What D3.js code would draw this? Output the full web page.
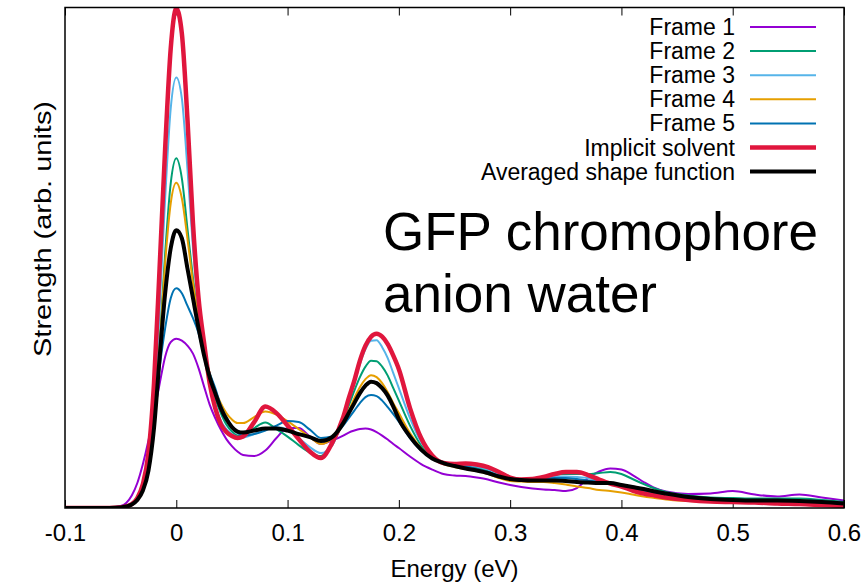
<!DOCTYPE html>
<html>
<head>
<meta charset="utf-8">
<script src="https://cdn.jsdelivr.net/npm/d3@7"></script>
<style>
    body { margin: 0; background: #fff; }
    svg text { font-family: "Liberation Sans", Arial, Helvetica, sans-serif; fill: #000; }
</style>
</head>
<body>
<svg id="chart" width="866" height="582"></svg>
<script>
// Energy grid (eV) shared by every curve
const energy = [-0.1, -0.06, -0.05, -0.045, -0.04, -0.035, -0.03, -0.025, -0.02, -0.015, -0.01, -0.005,
    0, 0.005, 0.01, 0.015, 0.02, 0.025, 0.03, 0.035, 0.04, 0.045, 0.05, 0.055,
    0.06, 0.07, 0.08, 0.09, 0.1, 0.11, 0.12, 0.13, 0.14, 0.15,
    0.155, 0.16, 0.165, 0.17, 0.175, 0.18, 0.185, 0.19, 0.195,
    0.2, 0.21, 0.22, 0.23, 0.24, 0.25, 0.26, 0.27, 0.28, 0.29, 0.3, 0.31, 0.32, 0.33, 0.34,
    0.35, 0.36, 0.37, 0.38, 0.39, 0.4, 0.41, 0.42, 0.43, 0.44,
    0.46, 0.48, 0.5, 0.52, 0.54, 0.56, 0.58, 0.6];

const frame1 = [0, 0.001, 0.004, 0.01, 0.025, 0.05, 0.088, 0.135, 0.19, 0.248, 0.303, 0.332,
    0.339, 0.335, 0.325, 0.309, 0.28, 0.243, 0.207, 0.18, 0.157, 0.138, 0.124, 0.113,
    0.106, 0.104, 0.115, 0.14, 0.16, 0.16, 0.143, 0.128, 0.135, 0.145,
    0.151, 0.155, 0.158, 0.159, 0.157, 0.152, 0.145, 0.137, 0.128,
    0.12, 0.103, 0.088, 0.077, 0.068, 0.065, 0.064, 0.061, 0.057, 0.051, 0.046, 0.042, 0.039, 0.037, 0.036,
    0.034, 0.04, 0.06, 0.073, 0.079, 0.077, 0.066, 0.052, 0.04, 0.033,
    0.028, 0.029, 0.034, 0.027, 0.023, 0.027, 0.021, 0.015];

const frame2 = [0, 0, 0.001, 0.003, 0.007, 0.016, 0.037, 0.08, 0.175, 0.33, 0.51, 0.65,
    0.7, 0.66, 0.56, 0.46, 0.375, 0.31, 0.26, 0.22, 0.19, 0.167, 0.153, 0.145,
    0.144, 0.16, 0.171, 0.158, 0.143, 0.126, 0.111, 0.104, 0.128, 0.175,
    0.205, 0.235, 0.262, 0.283, 0.295, 0.294, 0.283, 0.265, 0.24,
    0.215, 0.165, 0.125, 0.1, 0.09, 0.086, 0.083, 0.08, 0.075, 0.066, 0.059, 0.057, 0.058, 0.062, 0.066,
    0.068, 0.068, 0.068, 0.07, 0.072, 0.068, 0.058, 0.048, 0.039, 0.032,
    0.025, 0.021, 0.02, 0.019, 0.019, 0.019, 0.016, 0.012];

const frame3 = [0, 0, 0.001, 0.003, 0.008, 0.018, 0.042, 0.09, 0.2, 0.4, 0.62, 0.8,
    0.862, 0.82, 0.68, 0.52, 0.4, 0.32, 0.255, 0.205, 0.175, 0.158, 0.148, 0.142,
    0.141, 0.148, 0.158, 0.162, 0.157, 0.14, 0.122, 0.11, 0.125, 0.18,
    0.215, 0.25, 0.288, 0.318, 0.335, 0.336, 0.322, 0.3, 0.27,
    0.24, 0.18, 0.132, 0.104, 0.09, 0.087, 0.086, 0.083, 0.077, 0.068, 0.06, 0.056, 0.056, 0.059, 0.062,
    0.063, 0.062, 0.06, 0.054, 0.048, 0.043, 0.037, 0.032, 0.028, 0.025,
    0.02, 0.017, 0.016, 0.015, 0.014, 0.013, 0.011, 0.008];

const frame4 = [0, 0, 0.001, 0.003, 0.007, 0.016, 0.037, 0.08, 0.17, 0.32, 0.49, 0.61,
    0.651, 0.62, 0.54, 0.45, 0.375, 0.315, 0.27, 0.235, 0.21, 0.19, 0.177, 0.17,
    0.17, 0.182, 0.193, 0.187, 0.174, 0.158, 0.142, 0.128, 0.14, 0.175,
    0.195, 0.22, 0.242, 0.258, 0.266, 0.262, 0.25, 0.232, 0.21,
    0.19, 0.15, 0.12, 0.1, 0.088, 0.082, 0.078, 0.074, 0.068, 0.06, 0.054, 0.053, 0.052, 0.052, 0.05,
    0.047, 0.043, 0.04, 0.036, 0.034, 0.031, 0.027, 0.023, 0.02, 0.017,
    0.014, 0.012, 0.011, 0.01, 0.008, 0.007, 0.005, 0.003];

const frame5 = [0, 0, 0.001, 0.003, 0.008, 0.018, 0.042, 0.09, 0.18, 0.28, 0.36, 0.42,
    0.44, 0.43, 0.405, 0.38, 0.35, 0.305, 0.27, 0.24, 0.205, 0.182, 0.163, 0.15,
    0.145, 0.148, 0.155, 0.165, 0.174, 0.172, 0.157, 0.14, 0.143, 0.165,
    0.18, 0.195, 0.21, 0.222, 0.226, 0.224, 0.215, 0.202, 0.188,
    0.173, 0.14, 0.115, 0.1, 0.09, 0.086, 0.083, 0.078, 0.072, 0.064, 0.058, 0.056, 0.056, 0.058, 0.06,
    0.06, 0.058, 0.055, 0.052, 0.049, 0.045, 0.04, 0.035, 0.031, 0.027,
    0.021, 0.018, 0.016, 0.015, 0.015, 0.014, 0.012, 0.009];

const implicitSolvent = [0, 0, 0.001, 0.003, 0.008, 0.02, 0.048, 0.11, 0.25, 0.48, 0.72, 0.92,
    1.0, 0.95, 0.78, 0.57, 0.42, 0.33, 0.25, 0.2, 0.168, 0.152, 0.144, 0.14,
    0.143, 0.172, 0.203, 0.19, 0.165, 0.138, 0.113, 0.1, 0.13, 0.182,
    0.22, 0.255, 0.295, 0.325, 0.343, 0.349, 0.343, 0.328, 0.305,
    0.278, 0.2, 0.14, 0.105, 0.09, 0.088, 0.089, 0.087, 0.082, 0.072, 0.061, 0.057, 0.058, 0.062, 0.068,
    0.072, 0.072, 0.066, 0.057, 0.049, 0.043, 0.035, 0.029, 0.025, 0.021,
    0.016, 0.013, 0.012, 0.011, 0.009, 0.008, 0.006, 0.004];

const averaged = [0, 0, 0.001, 0.003, 0.007, 0.016, 0.035, 0.075, 0.16, 0.3, 0.43, 0.52,
    0.556, 0.54, 0.48, 0.42, 0.36, 0.305, 0.262, 0.23, 0.2, 0.178, 0.162, 0.153,
    0.151, 0.155, 0.159, 0.159, 0.155, 0.148, 0.142, 0.134, 0.142, 0.17,
    0.19, 0.21, 0.23, 0.245, 0.253, 0.25, 0.24, 0.225, 0.203,
    0.178, 0.143, 0.117, 0.099, 0.09, 0.084, 0.079, 0.075, 0.07, 0.063, 0.058, 0.056, 0.055, 0.055, 0.055,
    0.054, 0.052, 0.051, 0.05, 0.05, 0.046, 0.042, 0.038, 0.033, 0.029,
    0.022, 0.018, 0.016, 0.015, 0.015, 0.014, 0.012, 0.009];

const seriesNames = ["Frame 1", "Frame 2", "Frame 3", "Frame 4", "Frame 5", "Implicit solvent", "Averaged shape function"];
const seriesValues = [frame1, frame2, frame3, frame4, frame5, implicitSolvent, averaged];

const xTicks = [-0.1, 0, 0.1, 0.2, 0.3, 0.4, 0.5, 0.6];
const xTickLabels = ["-0.1", "0", "0.1", "0.2", "0.3", "0.4", "0.5", "0.6"];

// line styles
const seriesColors = ["#9400d3", "#009e73", "#56b4e9", "#e69f00", "#0072b2", "#e0163d", "#000000"];
const seriesWidths = [2, 2, 2, 2, 2, 4.5, 4];

const plot = { left: 65, right: 844, top: 7.5, bottom: 508 };

const svg = d3.select('#chart');

const x = d3.scaleLinear().domain([-0.1, 0.6]).range([plot.left, plot.right]);
const y = d3.scaleLinear().domain([0, 1]).range([plot.bottom, 8.5]);

svg.append('clipPath')
    .attr('id', 'plot-clip')
    .append('rect')
    .attr('x', plot.left)
    .attr('y', plot.top)
    .attr('width', plot.right - plot.left)
    .attr('height', plot.bottom - plot.top);

// ticks (inward, bottom and top)
const bottomAxis = svg.append('g')
    .attr('transform', `translate(0, ${plot.bottom})`)
    .call(d3.axisBottom(x)
        .tickValues(xTicks)
        .tickFormat((d, i) => xTickLabels[i])
        .tickSizeInner(-8)
        .tickSizeOuter(0)
        .tickPadding(16));
bottomAxis.select('.domain').remove();
bottomAxis.selectAll('line').attr('stroke', '#000').attr('stroke-width', 1);
bottomAxis.selectAll('text')
    .style('font-size', '24px')
    .style('font-family', '"Liberation Sans", Arial, sans-serif');

const topAxis = svg.append('g')
    .attr('transform', `translate(0, ${plot.top})`)
    .call(d3.axisTop(x)
        .tickValues(xTicks)
        .tickFormat('')
        .tickSizeInner(-8)
        .tickSizeOuter(0));
topAxis.select('.domain').remove();
topAxis.selectAll('line').attr('stroke', '#000').attr('stroke-width', 1);

// curves
const line = d3.line()
    .x(d => x(d[0]))
    .y(d => y(d[1]))
    .curve(d3.curveMonotoneX);

const curves = svg.append('g').attr('clip-path', 'url(#plot-clip)');
seriesValues.forEach((vals, i) => {
    curves.append('path')
        .datum(energy.map((e, j) => [e, vals[j]]))
        .attr('fill', 'none')
        .attr('stroke', seriesColors[i])
        .attr('stroke-width', seriesWidths[i])
        .attr('stroke-linejoin', 'round')
        .attr('d', line);
});

// border
svg.append('rect')
    .attr('x', plot.left)
    .attr('y', plot.top)
    .attr('width', plot.right - plot.left)
    .attr('height', plot.bottom - plot.top)
    .attr('fill', 'none')
    .attr('stroke', '#000')
    .attr('stroke-width', 1.5);

// axis labels
svg.append('text')
    .attr('x', (plot.left + plot.right) / 2)
    .attr('y', 577)
    .attr('text-anchor', 'middle')
    .style('font-size', '24px')
    .text('Energy (eV)');

svg.append('text')
    .attr('transform', 'translate(43, 229) rotate(-90)')
    .attr('text-anchor', 'middle')
    .attr('dy', '0.35em')
    .attr('textLength', 256)
    .attr('lengthAdjust', 'spacingAndGlyphs')
    .style('font-size', '24px')
    .text('Strength (arb. units)');

// legend
const legend = svg.append('g');
seriesNames.forEach((name, i) => {
    const rowY = 27 + i * 24.1;
    legend.append('text')
        .attr('x', 735)
        .attr('y', rowY + 8)
        .attr('text-anchor', 'end')
        .style('font-size', '23px')
        .text(name);
    legend.append('line')
        .attr('x1', 750)
        .attr('x2', 816)
        .attr('y1', rowY)
        .attr('y2', rowY)
        .attr('stroke', seriesColors[i])
        .attr('stroke-width', seriesWidths[i]);
});

// annotation
const note = svg.append('text')
    .attr('x', 383)
    .attr('y', 250)
    .style('font-size', '53px');
note.append('tspan').attr('x', 383).attr('y', 250).text('GFP chromophore');
note.append('tspan').attr('x', 383).attr('y', 312).text('anion water');
</script>
</body>
</html>
